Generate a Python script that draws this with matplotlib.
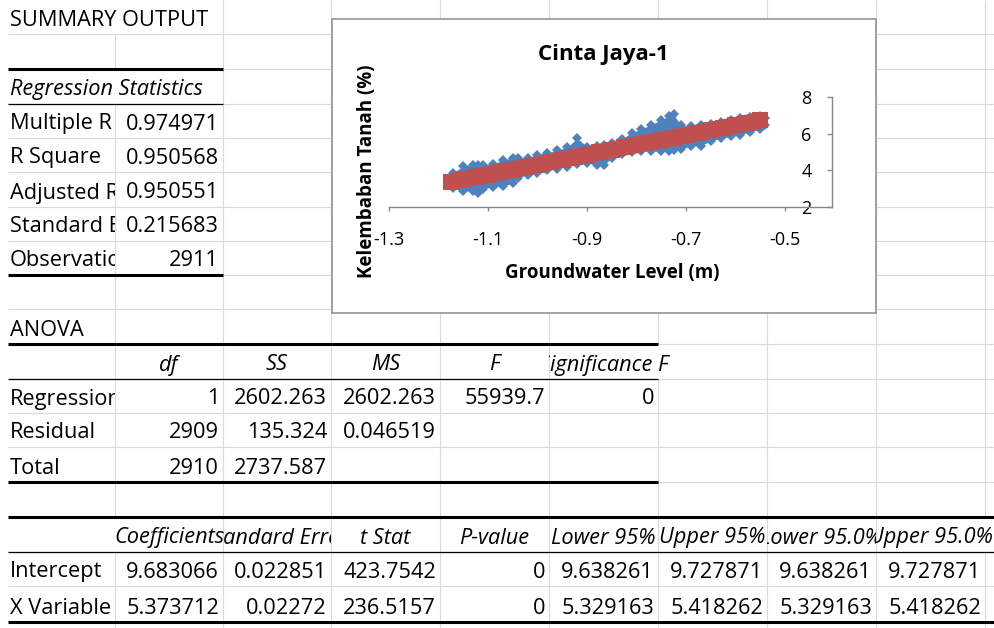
import matplotlib.pyplot as plt
from matplotlib.patches import Rectangle
from matplotlib.transforms import Bbox, TransformedBbox

plt.rcParams['font.family'] = ['Open Sans', 'DejaVu Sans']

# --- regression output (sheet values) ---
stat_labels = ['Multiple R', 'R Square', 'Adjusted R Square', 'Standard Error', 'Observations']
stat_values = ['0.974971', '0.950568', '0.950551', '0.215683', '2911']

anova_head = ['', 'df', 'SS', 'MS', 'F', 'Significance F']
anova_labels = ['Regression', 'Residual', 'Total']
anova_values = [['1', '2602.263', '2602.263', '55939.7', '0'],
                ['2909', '135.324', '0.046519', '', ''],
                ['2910', '2737.587', '', '', '']]

coef_head = ['', 'Coefficients', 'Standard Error', 't Stat', 'P-value',
             'Lower 95%', 'Upper 95%', 'Lower 95.0%', 'Upper 95.0%']
coef_labels = ['Intercept', 'X Variable 1']
coef_values = [['9.683066', '0.022851', '423.7542', '0', '9.638261', '9.727871', '9.638261', '9.727871'],
               ['5.373712', '0.02272', '236.5157', '0', '5.329163', '5.418262', '5.329163', '5.418262']]

# --- chart data: observed band (upper / lower edge points) and fitted values ---
gw_level = [-1.17, -1.15, -1.13, -1.12, -1.11, -1.09, -1.07, -1.05, -1.04, -1.02,
            -1.00, -0.98, -0.96, -0.94, -0.92, -0.90, -0.88, -0.865, -0.85, -0.83,
            -0.81, -0.79, -0.77, -0.75, -0.735, -0.725, -0.71, -0.69, -0.67, -0.65,
            -0.63, -0.61, -0.59, -0.57, -0.55, -0.54]
moist_hi = [3.85, 4.25, 4.30, 4.30, 4.30, 4.35, 4.55, 4.70, 4.65, 4.70,
            4.85, 4.95, 5.10, 5.25, 5.75, 5.30, 5.35, 5.40, 5.50, 5.70,
            6.05, 6.25, 6.50, 6.75, 6.95, 7.05, 6.45, 6.40, 6.45, 6.55,
            6.65, 6.75, 6.85, 6.90, 6.95, 6.85]
moist_lo = [3.05, 2.90, 2.85, 2.75, 3.00, 3.10, 3.15, 3.30, 3.60, 3.75,
            3.85, 4.00, 4.10, 4.20, 4.35, 4.40, 4.30, 4.30, 4.70, 4.90,
            5.00, 5.05, 5.05, 5.05, 5.05, 5.10, 5.15, 5.35, 5.35, 5.60,
            5.75, 5.85, 5.95, 6.10, 6.25, 6.45]

pred_gw = [-1.175, -1.15, -1.125, -1.1, -1.075, -1.05, -1.025, -1.0, -0.975, -0.95,
           -0.925, -0.9, -0.875, -0.85, -0.825, -0.8, -0.775, -0.75, -0.725, -0.7,
           -0.675, -0.65, -0.625, -0.6, -0.575, -0.55]
pred_moist = [3.369, 3.503, 3.638, 3.772, 3.906, 4.041, 4.175, 4.309, 4.444, 4.578,
              4.712, 4.847, 4.981, 5.115, 5.250, 5.384, 5.519, 5.653, 5.787, 5.922,
              6.056, 6.190, 6.325, 6.459, 6.593, 6.728]

xticks = [-1.3, -1.1, -0.9, -0.7, -0.5]
xtick_labels = ['-1.3', '-1.1', '-0.9', '-0.7', '-0.5']
yticks = [2, 4, 6, 8]

# sheet geometry (pixels)
col_x = [8, 115, 223, 331, 440, 549, 658, 767, 876, 985]
row_y = [0, 34, 69, 104, 138, 172, 207, 241, 275, 309, 344, 379, 413, 447, 482, 517, 552, 586, 622]
W, H = 995, 628

fig = plt.figure(figsize=(W / 100, H / 100), dpi=100)
sheet = fig.add_axes([0, 0, 1, 1])
sheet.set_xlim(0, W)
sheet.set_ylim(H, 0)
sheet.axis('off')
renderer = fig.canvas.get_renderer()
hidden = set()


def is_num(s):
    try:
        float(s)
        return True
    except ValueError:
        return False


def draw_row(r, cells, align=None, italic=False):
    cells = list(cells) + [''] * (9 - len(cells))
    for c, s in enumerate(cells):
        if not s:
            continue
        ha = align or ('right' if is_num(s) else 'left')
        x0, x1 = col_x[c], col_x[c + 1]
        if not is_num(s):
            if ha in ('left', 'center'):
                k = c + 1
                while k < 9 and not cells[k]:
                    k += 1
                x1 = col_x[k] if k < 9 else W
            if ha == 'center':
                k = c - 1
                while k >= 0 and not cells[k]:
                    k -= 1
                x0 = col_x[k + 1] if k >= 0 else 0
        if ha == 'left':
            tx = col_x[c] + 2
        elif ha == 'right':
            tx = col_x[c + 1] - 4
        else:
            tx = (col_x[c] + col_x[c + 1]) / 2
        t = sheet.text(tx, row_y[r + 1] - 8.5, s, ha=ha, va='baseline', fontsize=15.7,
                       style='italic' if italic else 'normal', color='black', clip_on=True)
        t.set_clip_box(TransformedBbox(Bbox([[x0, 0], [x1, H]]), sheet.transData))
        ext = t.get_window_extent(renderer)
        ex0 = max(ext.x0, x0)
        ex1 = min(ext.x1, x1)
        for b in col_x:
            if ex0 < b < ex1:
                hidden.add((r, b))


draw_row(0, ['SUMMARY OUTPUT'])
draw_row(2, ['Regression Statistics'], italic=True)
for i, (lab, val) in enumerate(zip(stat_labels, stat_values)):
    draw_row(3 + i, [lab, val])
draw_row(9, ['ANOVA'])
draw_row(10, anova_head, align='center', italic=True)
for i, lab in enumerate(anova_labels):
    draw_row(11 + i, [lab] + anova_values[i])
draw_row(15, coef_head, align='center', italic=True)
for i, lab in enumerate(coef_labels):
    draw_row(16 + i, [lab] + coef_values[i])

# light gridlines
grid = '#d9d9d9'
for y in row_y[1:]:
    sheet.hlines(y, col_x[0], W, color=grid, lw=0.8, zorder=1)
for b in col_x[1:]:
    for r in range(len(row_y) - 1):
        if (r, b) not in hidden:
            sheet.vlines(b, row_y[r], row_y[r + 1], color=grid, lw=0.8, zorder=1)
sheet.vlines(col_x[1:], row_y[-1], H, color=grid, lw=0.8, zorder=1)

# table borders
thick = dict(color='black', lw=2.2, zorder=2)
thin = dict(color='black', lw=0.9, zorder=2)
sheet.hlines([row_y[2], row_y[8]], col_x[0], col_x[2], **thick)
sheet.hlines(row_y[3], col_x[0], col_x[2], **thin)
sheet.hlines([row_y[10], row_y[14]], col_x[0], col_x[6], **thick)
sheet.hlines(row_y[11], col_x[0], col_x[6], **thin)
sheet.hlines([row_y[15], row_y[18]], col_x[0], W, **thick)
sheet.hlines(row_y[16], col_x[0], W, **thin)

# chart frame
sheet.add_patch(Rectangle((332, 19), 544, 294, facecolor='white',
                          edgecolor='#8c8c8c', lw=1.1, zorder=4))

# --- embedded chart ---
blue = '#4f81bd'
red = '#c0504d'
ax = fig.add_axes([389 / W, 1 - 207 / H, 443 / W, 110 / H], zorder=2)
ax.set_facecolor('none')
ax.fill_between(gw_level, moist_lo, moist_hi, color=blue, lw=0)
ax.plot(gw_level, moist_hi, 'D', ms=5, color=blue, mew=0)
ax.plot(gw_level, moist_lo, 'D', ms=5, color=blue, mew=0)
ax.plot(pred_gw, pred_moist, '-', lw=12, color=red, solid_capstyle='butt')
ax.plot(pred_gw, pred_moist, 's', ms=12, color=red, mew=0)

ax.set_xlim(-1.3, -0.405)
ax.set_ylim(2, 8)
ax.set_xticks(xticks)
ax.set_xticklabels(xtick_labels)
ax.set_yticks(yticks)
ax.spines['left'].set_position(('axes', 1.0))
ax.spines['right'].set_visible(False)
ax.spines['top'].set_visible(False)
for s in ('left', 'bottom'):
    ax.spines[s].set_color('#868686')
    ax.spines[s].set_linewidth(1)
ax.tick_params(axis='x', direction='out', length=3, width=1, color='#868686',
               labelsize=13, pad=14)
ax.tick_params(axis='y', direction='out', length=3.6, width=1, color='#868686',
               labelsize=13, pad=11)

ax.text((603 - 389) / 443, (207 - 60) / 110, 'Cinta Jaya-1', transform=ax.transAxes,
        ha='center', va='baseline', fontsize=16, fontweight='bold')
ax.text((612 - 389) / 443, (207 - 278) / 110, 'Groundwater Level (m)', transform=ax.transAxes,
        ha='center', va='baseline', fontsize=13.5, fontweight='bold')
ax.text((372 - 389) / 443, (207 - 171.7) / 110, 'Kelembaban Tanah (%)', transform=ax.transAxes,
        ha='center', va='baseline', rotation=90, rotation_mode='anchor',
        fontsize=13.5, fontweight='bold')

fig.savefig('out.png', dpi=100)
